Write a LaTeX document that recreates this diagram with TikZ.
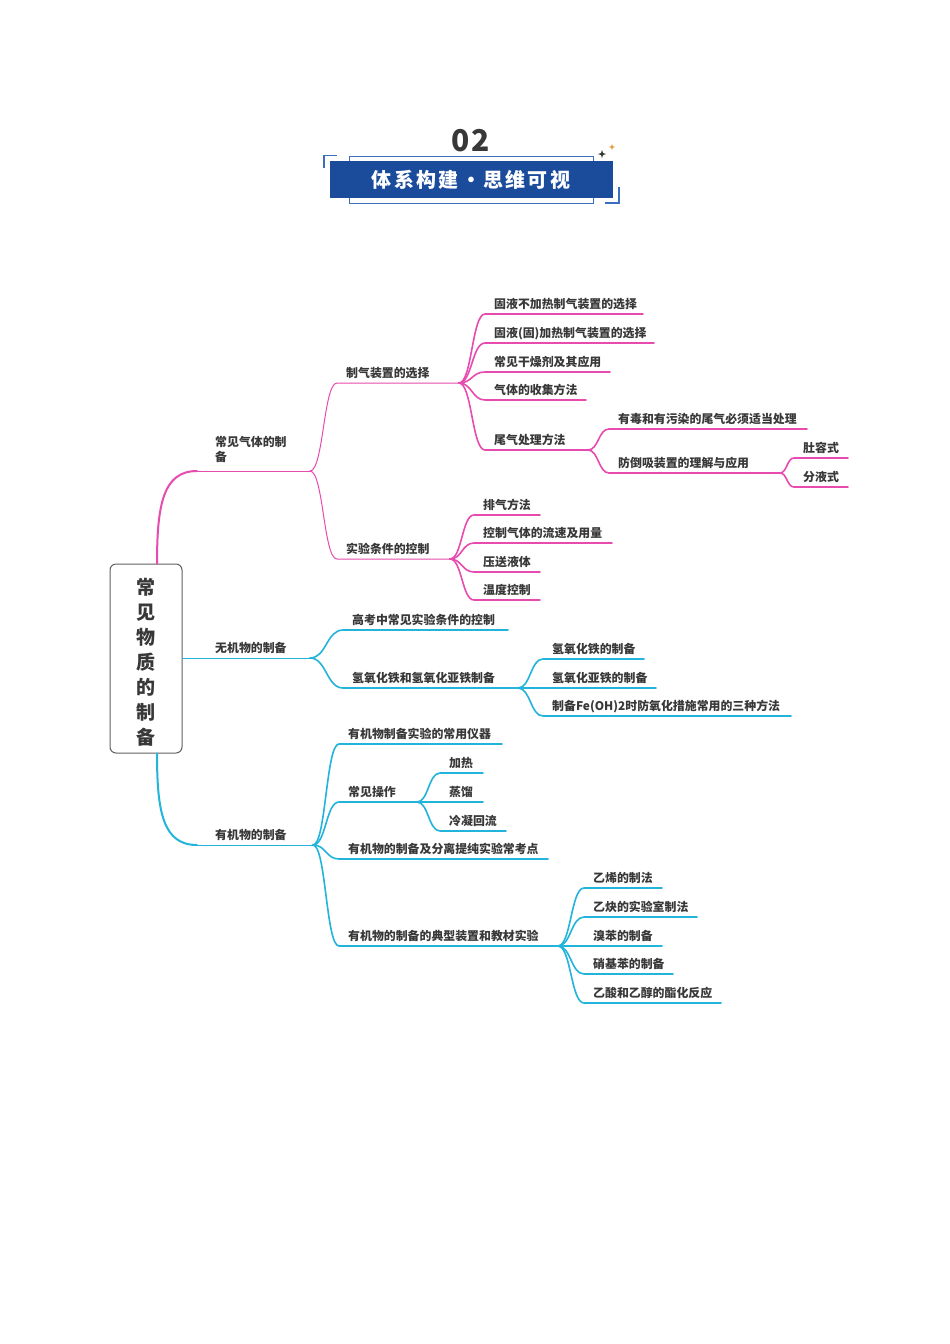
\documentclass[tikz,border=0pt]{standalone}
\usepackage{fontspec}
\setmainfont{Noto Sans CJK SC}
\usetikzlibrary{calc}
\definecolor{pk}{HTML}{E84BAF}
\definecolor{cy}{HTML}{22B4DA}
\definecolor{tx}{HTML}{383838}
\definecolor{hb}{HTML}{1B4C9C}
\definecolor{hl}{HTML}{3A6EBF}
\definecolor{og}{HTML}{E8963A}
\tikzset{
  lbl/.style={anchor=base west, inner sep=0pt, font=\fontsize{11.9}{15}\selectfont\bfseries, text=tx},
  thinln/.style={line width=1pt, line cap=round},
  thickln/.style={line width=1.6pt, line cap=round},
  rootln/.style={line width=2pt, line cap=round},
}
% \topic{name}{parent}{label x}{underline y}{end x}{text}{line style}{colour}
\newcommand{\topic}[8]{%
  \coordinate (#1-s) at ({#3-9},#4);
  \coordinate (#1-e) at (#5,#4);
  \node[lbl] (#1) at (#3,{#4-5.5}) {#6};
  \draw[#7,draw=#8] let \p1=(#2), \p2=(#1-s) in
    (#2) .. controls ({(\x1+\x2)/2},\y1) and ({(\x1+\x2)/2},\y2) .. (#1-s) -- (#1-e);
}
\begin{document}
\begin{tikzpicture}[x=1pt,y=-1pt]
\useasboundingbox (0,0) rectangle (950,1344);
\fill[white] (0,0) rectangle (950,1344);
% ---------- header ----------
\draw[hl, line width=1pt] (349,156) rectangle (593,203);
\fill[hb] (330,161) rectangle (613,198);
\draw[hl, line width=1.5pt] (324,168) -- (324,155.5) -- (337,155.5);
\draw[hl, line width=1.5pt] (619,187) -- (619,203) -- (605,203);
\fill[tx] (602,150) -- (603,153) -- (606,154) -- (603,155) -- (602,158) -- (601,155) -- (598,154) -- (601,153) -- cycle;
\fill[og] (612,144) -- (612.8,146.2) -- (615,147) -- (612.8,147.8) -- (612,150) -- (611.2,147.8) -- (609,147) -- (611.2,146.2) -- cycle;
\node[inner sep=0pt, text=tx, font=\fontsize{30}{30}\selectfont\bfseries] (num) at (471,141) {0\hspace{2pt}2};
\node[inner sep=0pt, text=white, font=\fontsize{20}{20}\selectfont\bfseries\addfontfeature{LetterSpace=12}] (title) at (471,180) {体系构建\hspace{2pt}·\hspace{2pt}思维可视};
% ---------- root ----------
\node[draw=tx!80, line width=1pt, rounded corners=6pt, fill=white, minimum width=72pt, minimum height=189pt, inner sep=0pt,
      text=tx, font=\fontsize{19}{25}\selectfont\bfseries, align=center] (root) at (146,658.5)
      {\rule{0pt}{24pt}常\\见\\物\\质\\的\\制\\备};
% ---------- level 1 ----------
\coordinate (g-s) at (197,471); \coordinate (G) at (310,471);
\coordinate (w-s) at (182,658); \coordinate (W) at (310,658);
\coordinate (y-s) at (197,845); \coordinate (Y) at (313,845);
\draw[rootln, pk] (root.north -| 157,0) .. controls (157,505) and (163,471) .. (g-s);
\draw[thinln, pk] (g-s) -- (G);
\draw[thinln, cy] (root.east |- w-s) -- (W);
\draw[rootln, cy] (root.south -| 157,0) .. controls (157,812) and (163,845) .. (y-s);
\draw[thinln, cy] (y-s) -- (Y);
\node[lbl, align=left, anchor=north west] (gas) at (215,436) {常见气体的制\\备};
\node[lbl] (wj) at (215,652.5) {无机物的制备};
\node[lbl] (yj) at (215,839.5) {有机物的制备};
% ---------- gas branch ----------
\topic{zq}{G}{346}{383}{459}{制气装置的选择}{thinln}{pk}
\topic{sy}{G}{346}{559}{450}{实验条件的控制}{thinln}{pk}
\topic{gy1}{zq-e}{494}{314}{643}{固液不加热制气装置的选择}{thickln}{pk}
\topic{gy2}{zq-e}{494}{343}{654}{固液(固)加热制气装置的选择}{thickln}{pk}
\topic{gz}{zq-e}{494}{372}{610}{常见干燥剂及其应用}{thickln}{pk}
\topic{qt}{zq-e}{494}{400}{586}{气体的收集方法}{thickln}{pk}
\topic{wq}{zq-e}{494}{450}{588}{尾气处理方法}{thickln}{pk}
\topic{yd}{wq-e}{618}{429}{807}{有毒和有污染的尾气必须适当处理}{thickln}{pk}
\topic{fd}{wq-e}{618}{473}{780}{防倒吸装置的理解与应用}{thickln}{pk}
\topic{dr}{fd-e}{803}{458}{848}{肚容式}{thickln}{pk}
\topic{fy}{fd-e}{803}{487}{848}{分液式}{thickln}{pk}
\topic{pq}{sy-e}{483}{515}{540}{排气方法}{thickln}{pk}
\topic{kz}{sy-e}{483}{543}{612}{控制气体的流速及用量}{thickln}{pk}
\topic{ys}{sy-e}{483}{572}{540}{压送液体}{thickln}{pk}
\topic{wd}{sy-e}{483}{600}{540}{温度控制}{thickln}{pk}
% ---------- inorganic branch ----------
\topic{gk}{W}{352}{630}{508}{高考中常见实验条件的控制}{thickln}{cy}
\topic{qy}{W}{352}{688}{518}{氢氧化铁和氢氧化亚铁制备}{thickln}{cy}
\topic{t1}{qy-e}{552}{659}{644}{氢氧化铁的制备}{thickln}{cy}
\topic{t2}{qy-e}{552}{688}{656}{氢氧化亚铁的制备}{thickln}{cy}
\topic{t3}{qy-e}{552}{716}{791}{制备Fe(OH)2时防氧化措施常用的三种方法}{thickln}{cy}
% ---------- organic branch ----------
\topic{yq}{Y}{348}{744}{502}{有机物制备实验的常用仪器}{thickln}{cy}
\topic{cz}{Y}{348}{802}{417}{常见操作}{thickln}{cy}
\topic{jr}{cz-e}{449}{773}{483}{加热}{thickln}{cy}
\topic{zl}{cz-e}{449}{802}{483}{蒸馏}{thickln}{cy}
\topic{ln}{cz-e}{449}{831}{506}{冷凝回流}{thickln}{cy}
\topic{fl}{Y}{348}{859}{548}{有机物的制备及分离提纯实验常考点}{thickln}{cy}
\topic{dx}{Y}{348}{946}{558}{有机物的制备的典型装置和教材实验}{thickln}{cy}
\topic{e1}{dx-e}{593}{888}{662}{乙烯的制法}{thickln}{cy}
\topic{e2}{dx-e}{593}{917}{697}{乙炔的实验室制法}{thickln}{cy}
\topic{e3}{dx-e}{593}{946}{662}{溴苯的制备}{thickln}{cy}
\topic{e4}{dx-e}{593}{974}{673}{硝基苯的制备}{thickln}{cy}
\topic{e5}{dx-e}{593}{1003}{721}{乙酸和乙醇的酯化反应}{thickln}{cy}
\end{tikzpicture}
\end{document}
